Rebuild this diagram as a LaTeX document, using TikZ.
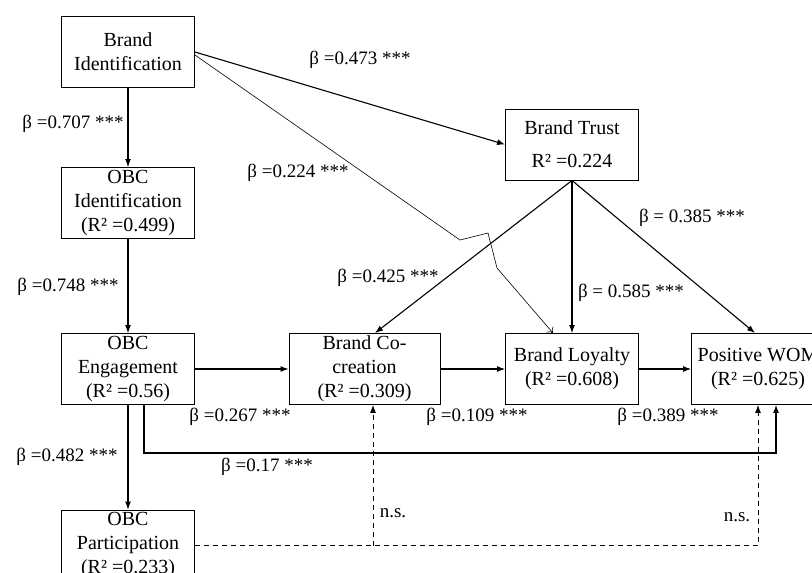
\documentclass[tikz,border=0pt]{standalone}
\usepackage{fontspec}
\setmainfont{Liberation Serif}
\usetikzlibrary{arrows.meta}

\begin{document}
\begin{tikzpicture}
	  [x=1pt,y=-1pt,
   box/.style={draw,line width=0.9pt,minimum width=133pt,minimum height=71pt,inner sep=0pt,align=center,font=\fontsize{20}{24}\selectfont},
   lbl/.style={inner sep=0pt,font=\fontsize{19}{22}\selectfont},
   arr/.style={line width=1.1pt,-{Latex[length=8pt,width=6pt]}},
   thinarr/.style={line width=0.6pt,-{To[length=5pt,width=9pt]}},
   ns/.style={line width=0.9pt,dash pattern=on 5pt off 4pt,-{Latex[length=8pt,width=6pt]}}
  ]
  \useasboundingbox (0,0) rectangle (812,573);

  % constructs
  \node[box] (bi) at (128,52) {Brand\\Identification};
  \node[box] (obci) at (128,203) {OBC\\Identification\\(R² =0.499)};
  \node[box] (obce) at (128,369) {OBC\\Engagement\\(R² =0.56)};
  \node[box] (obcp) at (128,545.5) {OBC\\Participation\\(R² =0.233)};
  \node[box,minimum width=151pt] (bcc) at (364.5,369) {Brand Co-\\creation\\(R² =0.309)};
  \node[box] (bl) at (572,369) {Brand Loyalty\\(R² =0.608)};
  \node[box] (wom) at (758,369) {Positive WOM\\(R² =0.625)};
  \node[box] (bt) at (572,144.5) {Brand Trust\\[9pt]R² =0.224};

  % paths
  \draw[arr] (bi) -- (obci);
  \draw[arr] (obci) -- (obce);
  \draw[arr] (obce) -- (obcp);
  \draw[arr] (obce) -- (bcc);
  \draw[arr] (bcc) -- (bl);
  \draw[arr] (bl) -- (wom);
  \draw[arr] (bi.east) -- (bt.west);
  \draw[arr] (bt.south) -- ([xshift=10.5pt]bcc.north);
  \draw[arr] (bt.south) -- (bl.north);
  \draw[arr] (bt.south) -- ([xshift=-3pt]wom.north);
  \draw[arr] ([xshift=16pt]obce.south) -- ++(0,48) -| ([xshift=18pt]wom.south);

  % the jump over brand trust -> co-creation
  \coordinate (j1) at (460,240);
  \coordinate (j2) at (488,233);
  \coordinate (j3) at (497,268);
  \draw[thinarr] ([yshift=-3pt]bi.east) -- (j1) -- (j2) -- (j3) -- ([xshift=-19pt]bl.north);

  % not significant
  \path ([xshift=8.5pt]bcc.south) coordinate (cc);
  \draw[ns] (obcp.east) -| (wom.south);
  \draw[ns] (obcp.east -| cc) -- (cc);

  % coefficients
  \foreach \n/\x/\y/\t in {l1/360/60/{β =0.473 ***},l2/73/124/{β =0.707 ***},
      l3/298/173/{β =0.224 ***},l4/68/287/{β =0.748 ***},l5/388/278/{β =0.425 ***},
      l6/692/218/{β = 0.385 ***},l7/631/293/{β = 0.585 ***},l8/240/417/{β =0.267 ***},
      l9/67/457/{β =0.482 ***},l10/267/467/{β =0.17 ***},l11/393/513/{n.s.},
      l12/477/417/{β =0.109 ***},l13/668/417/{β =0.389 ***},l14/737/517/{n.s.}}
     \node[lbl] (\n) at (\x,\y) {\t};

\end{tikzpicture}
\end{document}
